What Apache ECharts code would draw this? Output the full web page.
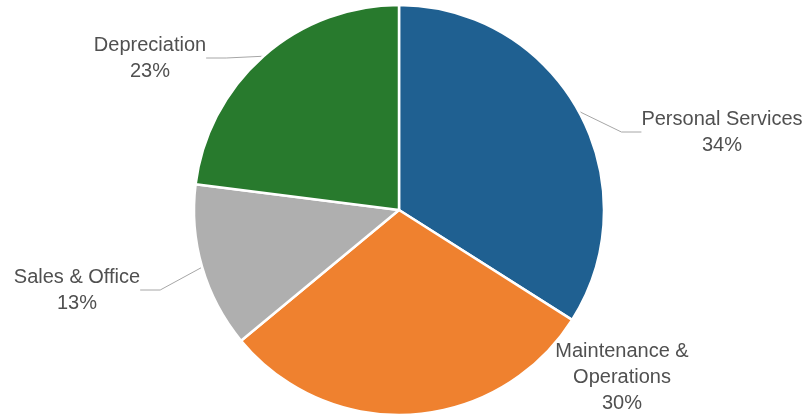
<!DOCTYPE html>
<html>
<head>
<meta charset="utf-8">
<script src="https://cdn.jsdelivr.net/npm/echarts@6/dist/echarts.min.js"></script>
<style>
  html, body { margin: 0; padding: 0; background: #fff; }
  #chart { width: 804px; height: 419px; }
</style>
</head>
<body>
<div id="chart"></div>
<script>
// slices, clockwise from 12 o'clock
var categories = ['Personal Services', 'Maintenance & Operations', 'Sales & Office', 'Depreciation'];
var values = [34, 30, 13, 23];
var colors = ['#1f6091', '#ef812f', '#afafaf', '#287a2d'];

// where each label sits (center of text block)
var labelPos = [
  [722, 132],
  [622, 377],
  [77, 290],
  [150, 58]
];

var chart = echarts.init(document.getElementById('chart'));

var seriesData = categories.map(function (name, i) {
  return {
    name: name,
    value: values[i],
    itemStyle: { color: colors[i] },
    labelLine: { show: i !== 1 }
  };
});

chart.setOption({
  animation: false,
  series: [{
    type: 'pie',
    center: [399, 210],
    radius: 205,
    startAngle: 90,
    clockwise: true,
    data: seriesData,
    itemStyle: {
      borderColor: '#fff',
      borderWidth: 2.5
    },
    label: {
      show: true,
      position: 'outside',
      fontFamily: 'Liberation Sans',
      fontSize: 20,
      lineHeight: 26,
      color: '#505050',
      align: 'center',
      formatter: function (p) {
        // only the long name wraps
        var name = p.dataIndex === 1 ? p.name.replace('& ', '&\n') : p.name;
        return name + '\n' + p.value + '%';
      }
    },
    labelLine: {
      show: true,
      length: 20,
      length2: 20,
      lineStyle: { color: '#a6a6a6', width: 1 }
    },
    labelLayout: function (params) {
      var pos = labelPos[params.dataIndex];
      return {
        x: pos[0],
        y: pos[1],
        align: 'center',
        verticalAlign: 'middle'
      };
    }
  }]
});
</script>
</body>
</html>
